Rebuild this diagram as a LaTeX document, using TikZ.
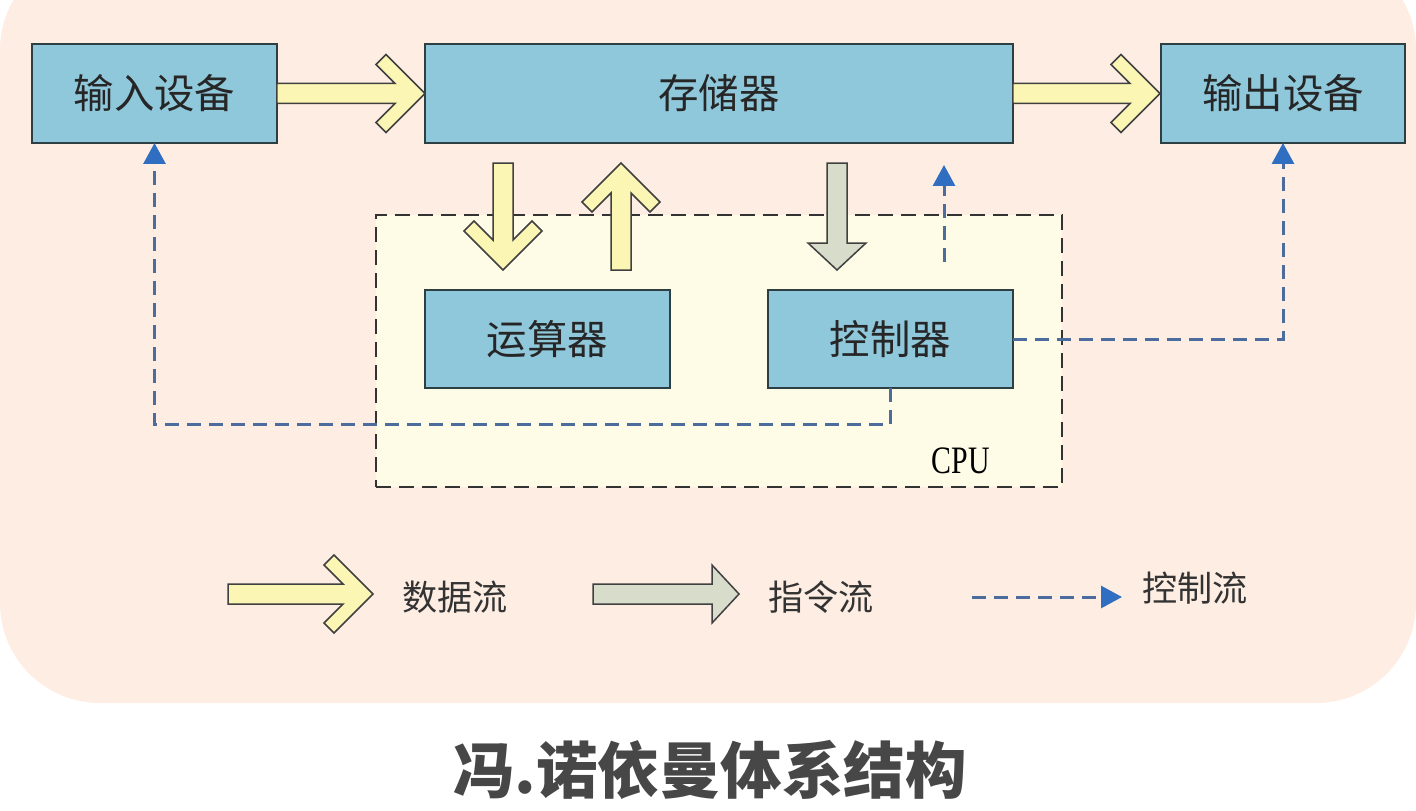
\documentclass[tikz,border=0pt]{standalone}
\usepackage{fontspec}
\usepackage{xcolor}
\usepackage{tikz}
\usetikzlibrary{arrows.meta}
\setmainfont{Noto Sans CJK SC}
\newfontfamily\cpufont{Liberation Serif}
\definecolor{panelbg}{HTML}{FDEDE2}
\definecolor{cpubg}{HTML}{FEFBE6}
\definecolor{unitblue}{HTML}{8FC7DB}
\definecolor{unitline}{HTML}{2E3F44}
\definecolor{datayellow}{HTML}{FBF6B4}
\definecolor{instrgray}{HTML}{D8DCCB}
\definecolor{ctrlblue}{HTML}{4C6C9E}
\definecolor{tipblue}{HTML}{2F6EC0}
\definecolor{titlegray}{HTML}{474747}

\tikzset{
    unit/.style={draw=unitline, fill=unitblue, line width=0.04cm, inner sep=0pt, outer sep=0pt,
                 minimum width=4.9cm, minimum height=1.98cm, text=black!85,
                 font=\fontsize{23}{26}\selectfont},
    pipeline/.style={draw=black!75, line width=0.03cm, line join=miter},
    ctrlflow/.style={draw=ctrlblue, line width=0.06cm, dash pattern=on 0.28cm off 0.16cm,
                     -{Triangle[length=0.42cm, width=0.44cm, color=tipblue]}},
    keytext/.style={anchor=west, text=black!80, font=\fontsize{20}{24}\selectfont},
    pics/datapipe/.style={code={
        \draw[pipeline, fill=datayellow] (0,-10) -- (#1-30,-10) -- (#1-49,-29) -- (#1-39,-39)
            -- (#1,0) -- (#1-39,39) -- (#1-49,29) -- (#1-30,10) -- (0,10) -- cycle;
    }},
    pics/instrpipe/.style={code={
        \draw[pipeline, fill=instrgray] (0,-10) -- (#1-27,-10) -- (#1-27,-29)
            -- (#1,0) -- (#1-27,29) -- (#1-27,10) -- (0,10) -- cycle;
    }},
}

\begin{document}
\begin{tikzpicture}[x=0.02cm, y=-0.02cm]
    \useasboundingbox (0,0) rectangle (1416,811);
    \fill[panelbg, rounded corners=2cm] (0,-50) rectangle (1416,703);

    % CPU frame
    \node[draw=black!80, dash pattern=on 0.3cm off 0.16cm, line width=0.04cm, fill=cpubg,
          minimum width=13.72cm, minimum height=5.44cm] (cpu) at (719,351) {};
    \node[font=\cpufont\fontsize{17}{20}\selectfont, yscale=1.3] (cpulabel)
        at ([shift={(-102,-27)}]cpu.south east) {CPU};

    \node[unit] (in) at (154.5,93.5) {输入设备};
    \node[unit, minimum width=11.76cm] (mem) at (719,93.5) {存储器};
    \node[unit] (out) at (1283,93.5) {输出设备};
    \node[unit] (alu) at (547.5,339) {运算器};
    \node[unit] (ctl) at (890.5,339) {控制器};

    \coordinate (down1) at (503,163);
    \coordinate (up1) at (621,270);
    \coordinate (down2) at (837,163);
    \coordinate (ctlup) at (944,262);

    \pic at (in.east) {datapipe=148};
    \pic at (mem.east) {datapipe=147};
    \pic[rotate=-90] at (down1) {datapipe=107};
    \pic[rotate=90] at (up1) {datapipe=107};
    \pic[rotate=-90] at (down2) {instrpipe=107};

    \draw[ctrlflow] (ctl.south) -- ++(0,36) -| (in.south);
    \draw[ctrlflow] (ctl.east) -| (out.south);
    \draw[ctrlflow, shorten >=0.44cm] (ctlup) -- (ctlup |- mem.south);

    % legend
    \coordinate (keydata) at (228,594);
    \coordinate (keyinstr) at (593,594);
    \coordinate (keyctlA) at (972,597);
    \coordinate (keyctlB) at (1122,597);
    \pic at (keydata) {datapipe=145};
    \node[keytext] (datalabel) at (396,597) {数据流};
    \pic at (keyinstr) {instrpipe=146};
    \node[keytext] (instrlabel) at (762,597) {指令流};
    \draw[ctrlflow] (keyctlA) -- (keyctlB);
    \node[keytext] (ctllabel) at (1136,588) {控制流};

    \node[text=titlegray, font=\bfseries\fontsize{35}{40}\selectfont] (title) at (710,770) {冯.诺依曼体系结构};
\end{tikzpicture}
\end{document}
